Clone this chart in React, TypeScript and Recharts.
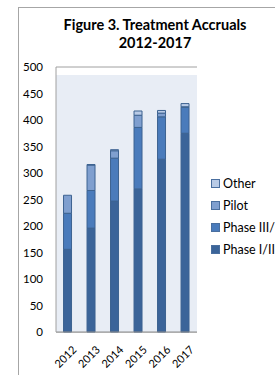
import React from 'react';
import { BarChart, Bar, XAxis, YAxis, CartesianGrid, ReferenceArea } from 'recharts';

const years = ['2012', '2013', '2014', '2015', '2016', '2017'];
const phaseOneTwo = [156, 196, 247, 270, 326, 375];
const phaseThree = [68, 71, 81, 116, 80, 49];
const pilot = [34, 48, 14, 23, 7, 1];
const other = [0, 1, 2, 8, 5, 6];
const yTicks = [0, 50, 100, 150, 200, 250, 300, 350, 400, 450, 500];

const series = [
  { key: 'phase12', name: 'Phase I/II', color: '#3b6499' },
  { key: 'phase3', name: 'Phase III/', color: '#4a7bbb' },
  { key: 'pilot', name: 'Pilot', color: '#7f9fcf' },
  { key: 'other', name: 'Other', color: '#b9cbe6' },
];

const data = years.map((year, i) => ({
  year,
  phase12: phaseOneTwo[i],
  phase3: phaseThree[i],
  pilot: pilot[i],
  other: other[i],
}));

const font = 'Lato, "Liberation Sans", sans-serif';

function YearTick({ x, y, payload }: any) {
  return (
    <g transform={`translate(${x + 4},${y + 5})`}>
      <text transform="rotate(-45)" textAnchor="end" dy="0.7em" fontSize={11} fill="#000" fontFamily={font}>
        {payload.value}
      </text>
    </g>
  );
}

function LegendBox() {
  const items = [...series].reverse();
  return (
    <div style={{ position: 'absolute', left: 211, top: 172, fontFamily: font, fontSize: 12.5, color: '#000' }}>
      {items.map((s) => (
        <div key={s.key} style={{ display: 'flex', alignItems: 'center', height: 22 }}>
          <span style={{ width: 7, height: 7, background: s.color, border: '1px solid #4a6f9f', marginRight: 3 }} />
          <span style={{ whiteSpace: 'nowrap' }}>{s.name}</span>
        </div>
      ))}
    </div>
  );
}

export default function App() {
  return (
    <div style={{ position: 'absolute', left: 0, top: 0, width: 275, height: 375, overflow: 'hidden', background: '#fff' }}>
      <div style={{ position: 'absolute', left: 18, top: 7, width: 320, height: 420, borderLeft: '1px solid #a6a6a6', borderTop: '1px solid #a6a6a6' }} />
      <div
        style={{
          position: 'absolute',
          left: 45,
          top: 16,
          width: 220,
          textAlign: 'center',
          fontFamily: font,
          fontWeight: 700,
          fontSize: 14.5,
          lineHeight: '18px',
          color: '#000',
        }}
      >
        Figure 3. Treatment Accruals
        <br />
        2012-2017
      </div>
      <BarChart
        width={275}
        height={375}
        data={data}
        margin={{ top: 67, right: 78, bottom: 13, left: 0 }}
        barCategoryGap="32%"
        style={{ position: 'absolute', left: 0, top: 0 }}
      >
        <ReferenceArea y1={0} y2={485} fill="#e8edf5" fillOpacity={1} stroke="none" ifOverflow="hidden" />
        <CartesianGrid vertical={false} stroke="#a0a0a0" />
        <XAxis
          dataKey="year"
          height={30}
          tick={<YearTick />}
          tickLine={false}
          axisLine={{ stroke: '#8c8c8c' }}
          interval={0}
        />
        <YAxis
          domain={[0, 500]}
          ticks={yTicks}
          width={56}
          tickSize={0}
          tickMargin={13}
          tickLine={false}
          axisLine={{ stroke: '#a0a0a0' }}
          tick={{ fontSize: 11.5, fill: '#000', fontFamily: font }}
        />
        {series.map((s) => (
          <Bar
            key={s.key}
            dataKey={s.key}
            name={s.name}
            stackId="a"
            fill={s.color}
            stroke="#3d6391"
            strokeWidth={1}
            isAnimationActive={false}
          />
        ))}
      </BarChart>
      <LegendBox />
    </div>
  );
}
